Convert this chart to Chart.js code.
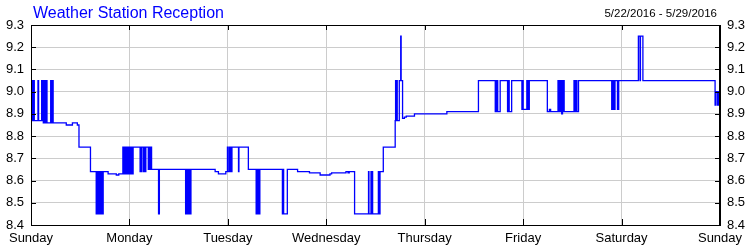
<!DOCTYPE html>
<html>
<head>
<meta charset="utf-8">
<script src="https://cdn.jsdelivr.net/npm/chart.js@4/dist/chart.umd.min.js"></script>
<style>
    body { margin: 0; background: #fff; }
    canvas { display: block; }
</style>
</head>
<body>
<canvas id="receptionChart" width="750" height="250"></canvas>
<script>
// Textos
const chartTitle = 'Weather Station Reception';
const dateRange = '5/22/2016 - 5/29/2016';
const dayLabels = ['Sunday', 'Monday', 'Tuesday', 'Wednesday', 'Thursday', 'Friday', 'Saturday', 'Sunday'];

// Eixo Y
const yMin = 8.4;
const yMax = 9.3;
const yStep = 0.1;

// Horas desde domingo 0h (cada valor vale até o próximo ponto)
const hours = [
    0, 0.3, 0.5, 0.8, 1.7, 1.85, 2.6, 2.75, 2.9, 3.0, 3.1, 3.25, 3.5, 3.6, 3.7, 3.9, 4.8, 4.9, 5.1, 5.2, 5.3, 5.4,
    8.6, 10.1, 11.3, 11.7, 14.5,
    15.9, 16.2, 16.3, 16.6, 16.7, 17.0, 17.1, 17.4, 17.45, 17.6,
    18.8, 20.8, 21.4,
    22.4, 22.6, 22.7, 22.9, 23.0, 23.2, 23.3, 23.5, 23.6, 23.8, 23.9, 24.1, 24.2, 24.4, 24.5, 24.8, 24.9,
    26.6, 26.7, 26.9, 27.0, 27.4, 27.5, 27.8, 28.0, 28.6, 28.8, 29.0, 29.2, 29.4,
    31.1, 31.3,
    37.7, 37.9, 38.0, 38.3, 38.4, 38.7, 38.8, 39.0,
    44.9, 45.7, 47.5,
    47.9, 48.05, 48.4, 48.55, 48.7, 48.85, 49.0,
    50.6, 50.7, 53.0,
    54.9, 55.1, 55.2, 55.5, 55.6, 55.8,
    61.3, 61.45, 61.6, 62.5,
    65.0, 67.9, 70.5, 72.9, 73.3, 76.8, 77.3, 77.6, 78.9,
    82.3, 82.4, 82.9, 83.0, 83.2, 83.3, 84.7, 84.8, 84.9, 85.0, 85.1,
    85.9, 88.8, 88.9, 89.05, 89.2, 89.3,
    89.8, 90.15, 90.25, 90.6, 91.05, 91.5, 93.5, 101.4, 109.1,
    113.2, 113.35, 113.5, 113.7, 113.8, 114.4,
    116.2, 116.4, 116.6, 117.2,
    119.7, 119.85, 120.0, 120.9, 121.0, 121.2, 121.3, 121.5,
    125.9, 126.4, 126.7,
    128.5, 128.7, 128.8, 129.0, 129.1, 129.4, 129.6, 129.8, 129.9, 130.0,
    132.4, 132.5, 132.7, 132.8, 133.0, 133.1, 133.5,
    141.6, 141.8, 141.9, 142.1, 142.2, 142.4, 143.0, 143.3,
    148.1, 148.5, 148.6, 149.2,
    166.8, 166.9, 167.3, 167.5, 167.8, 168
];

// Valores de recepção
const reception = [
    9.05, 8.87, 9.05, 8.87, 9.05, 8.87, 9.05, 8.87, 9.05, 8.86, 9.05, 8.86, 9.05, 8.86, 9.05, 8.86, 9.05, 8.86, 9.05, 8.86, 9.05, 8.86,
    8.85, 8.86, 8.85, 8.75, 8.64,
    8.45, 8.64, 8.45, 8.64, 8.45, 8.64, 8.45, 8.64, 8.45, 8.64,
    8.63, 8.625, 8.63,
    8.75, 8.63, 8.75, 8.63, 8.75, 8.63, 8.75, 8.63, 8.75, 8.63, 8.75, 8.63, 8.75, 8.63, 8.75, 8.63, 8.75,
    8.64, 8.75, 8.64, 8.75, 8.64, 8.75, 8.64, 8.75, 8.65, 8.75, 8.65, 8.75, 8.65,
    8.45, 8.65,
    8.45, 8.65, 8.45, 8.65, 8.45, 8.65, 8.45, 8.65,
    8.64, 8.63, 8.64,
    8.75, 8.64, 8.75, 8.64, 8.75, 8.64, 8.75,
    8.64, 8.75, 8.65,
    8.45, 8.65, 8.45, 8.65, 8.45, 8.65,
    8.45, 8.65, 8.45, 8.65,
    8.64, 8.635, 8.625, 8.63, 8.635, 8.64, 8.635, 8.64, 8.45,
    8.64, 8.45, 8.64, 8.45, 8.64, 8.45, 8.64, 8.45, 8.64, 8.45, 8.64,
    8.75, 8.87, 9.05, 8.87, 9.05, 8.87,
    9.05, 9.25, 9.05, 8.88, 8.885, 8.89, 8.90, 8.91, 9.05,
    8.91, 9.05, 8.91, 9.05, 8.91, 9.05,
    8.91, 9.05, 8.91, 9.05,
    8.92, 9.05, 8.92, 9.05, 8.92, 9.05, 8.92, 9.05,
    8.91, 8.92, 8.91,
    9.05, 8.91, 9.05, 8.91, 9.05, 8.90, 9.05, 8.91, 9.05, 8.91,
    9.05, 8.91, 9.05, 8.91, 9.05, 8.91, 9.05,
    8.92, 9.05, 8.92, 9.05, 8.92, 9.05, 8.92, 9.05,
    9.25, 9.05, 9.25, 9.05,
    8.94, 9.0, 8.94, 9.0, 8.94, 8.94
];

const fontFamily = '"Liberation Sans", Arial, sans-serif';

// Títulos e bordas / marcas internas
const framePlugin = {
    id: 'frame',
    afterDraw(chart) {
        const ctx = chart.ctx;
        const area = chart.chartArea;
        const xScale = chart.scales.x;
        const yScale = chart.scales.y;

        ctx.save();
        ctx.strokeStyle = '#000';
        ctx.lineWidth = 1;
        ctx.strokeRect(Math.round(area.left) + 0.5, Math.round(area.top) + 0.5,
            Math.round(area.right - area.left) - 1, Math.round(area.bottom - area.top));

        ctx.beginPath();
        xScale.ticks.forEach(t => {
            const px = Math.round(xScale.getPixelForValue(t.value)) + 0.5;
            ctx.moveTo(px, area.top);
            ctx.lineTo(px, area.top + 5);
            ctx.moveTo(px, area.bottom);
            ctx.lineTo(px, area.bottom - 6);
        });
        yScale.ticks.forEach(t => {
            const py = Math.round(yScale.getPixelForValue(t.value)) + 0.5;
            ctx.moveTo(area.left, py);
            ctx.lineTo(area.left + 5, py);
            ctx.moveTo(area.right, py);
            ctx.lineTo(area.right - 5, py);
        });
        ctx.stroke();

        ctx.fillStyle = '#0000ff';
        ctx.font = '16px ' + fontFamily;
        ctx.textAlign = 'left';
        ctx.textBaseline = 'alphabetic';
        ctx.fillText(chartTitle, 33, 18);

        ctx.fillStyle = '#000';
        ctx.font = '11.5px ' + fontFamily;
        ctx.textAlign = 'right';
        ctx.fillText(dateRange, 717, 17);
        ctx.restore();
    }
};

const yTicks = {
    stepSize: yStep,
    color: '#000',
    padding: 7,
    font: { family: fontFamily, size: 13 },
    callback: v => v.toFixed(1)
};

new Chart(document.getElementById('receptionChart'), {
    type: 'line',
    data: {
        datasets: [{
            data: hours.map((h, i) => ({ x: h, y: reception[i] })),
            borderColor: '#0000ff',
            borderWidth: 1.3,
            pointRadius: 0,
            stepped: true,
            fill: false
        }]
    },
    options: {
        responsive: false,
        animation: false,
        devicePixelRatio: 1,
        layout: { padding: { top: 25, left: 0, right: 0, bottom: 0 } },
        plugins: {
            legend: { display: false },
            tooltip: { enabled: false }
        },
        scales: {
            x: {
                type: 'linear',
                min: 0,
                max: 168,
                afterFit: scale => { scale.height = 25; },
                ticks: {
                    stepSize: 24,
                    color: '#000',
                    padding: 6,
                    maxRotation: 0,
                    autoSkip: false,
                    font: { family: fontFamily, size: 13 },
                    callback: v => dayLabels[Math.round(v / 24)]
                },
                grid: { color: '#cccccc', drawTicks: false },
                border: { color: '#000' }
            },
            y: {
                position: 'left',
                min: yMin,
                max: yMax,
                afterFit: scale => { scale.width = 31; },
                ticks: yTicks,
                grid: { color: '#cccccc', drawTicks: false },
                border: { color: '#000' }
            },
            y2: {
                position: 'right',
                min: yMin,
                max: yMax,
                afterFit: scale => { scale.width = 30; },
                ticks: yTicks,
                grid: { drawOnChartArea: false, drawTicks: false },
                border: { color: '#000' }
            }
        }
    },
    plugins: [framePlugin]
});
</script>
</body>
</html>
